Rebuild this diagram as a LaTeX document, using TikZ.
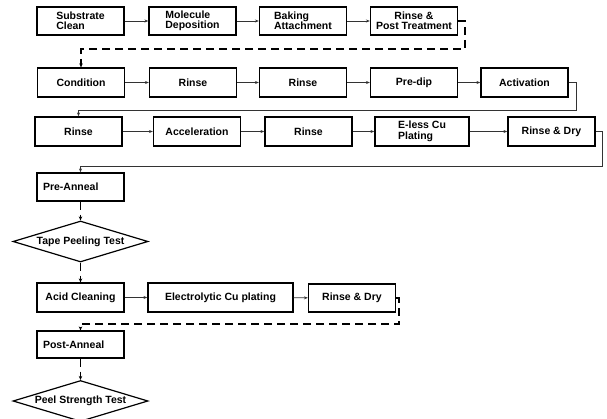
\documentclass[tikz,border=0pt]{standalone}
\usepackage{fontspec}
\setmainfont{Liberation Sans}
\usetikzlibrary{shapes.geometric,arrows.meta}

\tikzset{
  box/.style={draw,line width=1.2pt,rectangle,minimum width=87pt,minimum height=28pt,inner sep=2pt,align=center,font=\fontsize{10.5}{10.5}\selectfont\bfseries},
  lbox/.style={box,align=left,text width=75pt,inner sep=6pt},
  test/.style={draw,line width=1.2pt,diamond,aspect=3.3,inner sep=0pt,minimum width=135pt,minimum height=41pt,font=\fontsize{10.5}{10.5}\selectfont\bfseries},
  flow/.style={line width=0.8pt,black!80,-{Stealth[length=4pt,width=3pt]}},
  dflow/.style={line width=1.3pt,dash pattern=on 8pt off 5pt,-{Stealth[length=4pt,width=3.5pt]}}
}

\begin{document}
\begin{tikzpicture}[x=1pt,y=-1pt]
  \useasboundingbox (0,0) rectangle (607,419);
  \node[box,align=left] (sub) at (80.5,21) {Substrate\\Clean};
  \node[box,align=left] (mol) at (192.5,21) {Molecule\\Deposition};
  \node[box,align=left] (bak) at (303,21) {Baking\\Attachment};
  \node[box] (rpt) at (414,21) {Rinse \&\\Post Treatment};
  \node[box,minimum height=29pt] (cond) at (81,82.5) {Condition};
  \node[box,minimum height=29pt] (rin1) at (193,82.5) {Rinse};
  \node[box,minimum height=29pt] (rin2) at (303,82.5) {Rinse};
  \node[box,minimum height=29pt] (pdip) at (414,82.5) {Pre-dip};
  \node[box,minimum height=29pt] (act) at (524.5,82.5) {Activation};
  \node[box,minimum height=29pt] (rin3) at (78.5,131.5) {Rinse};
  \node[box,minimum height=29pt] (acc) at (197,131.5) {Acceleration};
  \node[box,minimum height=29pt] (rin4) at (308.5,131.5) {Rinse};
  \node[box,minimum height=29pt,minimum width=94pt,align=left] (eless) at (422,131.5) {E-less Cu\\Plating};
  \node[box,minimum height=29pt] (rdry) at (551.5,131.5) {Rinse \& Dry};
  \node[lbox] (pre) at (80.5,187) {Pre-Anneal};
  \node[test] (tape) at (80.5,241.5) {Tape Peeling Test};
  \node[box,minimum height=29pt] (acid) at (80.5,297.5) {Acid Cleaning};
  \node[box,minimum height=29pt,minimum width=145pt] (elec) at (220.5,297.5) {Electrolytic Cu plating};
  \node[box] (rdry2) at (352,298) {Rinse \& Dry};
  \node[lbox,minimum height=27pt] (post) at (80.5,344.5) {Post-Anneal};
  \node[test] (peel) at (80.5,401) {Peel Strength Test};

  \draw[flow] (sub) -- (mol);
  \draw[flow] (mol) -- (bak);
  \draw[flow] (bak) -- (rpt);
  \draw[dflow] (rpt.east) -- ++(7,0) -- ++(0,28) -| (cond.north);
  \draw[flow] (cond) -- (rin1);
  \draw[flow] (rin1) -- (rin2);
  \draw[flow] (rin2) -- (pdip);
  \draw[flow] (pdip) -- (act);
  \draw[flow] (act.east) -- ++(8,0) -- ++(0,27.5) -| (rin3.north);
  \draw[flow] (rin3) -- (acc);
  \draw[flow] (acc) -- (rin4);
  \draw[flow] (rin4) -- (eless);
  \draw[flow] (eless) -- (rdry);
  \draw[flow] (rdry.east) -- ++(7,0) -- ++(0,34.5) -| (pre.north);
  \draw[dflow] (pre) -- (tape);
  \draw[dflow] (tape) -- (acid);
  \draw[flow] (acid) -- (elec);
  \draw[flow] (elec) -- (rdry2);
  \draw[dflow] (rdry2.east) -- ++(3,0) -- ++(0,26) -| (post.north);
  \draw[dflow] (post) -- (peel);
\end{tikzpicture}
\end{document}
